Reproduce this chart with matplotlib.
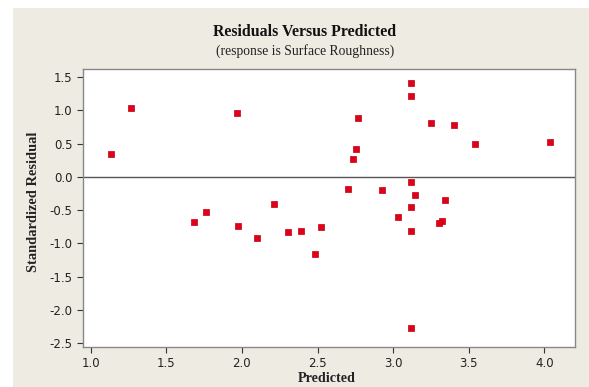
import matplotlib
matplotlib.use("Agg")
import matplotlib.pyplot as plt
from matplotlib.patches import Rectangle

predicted = [1.135, 1.27, 1.968, 2.213, 1.761, 1.686, 1.977, 2.103, 2.303, 2.393,
             2.484, 3.12, 3.12, 2.766, 3.25, 3.405, 3.541, 4.035, 2.757, 2.733,
             3.12, 2.70, 2.929, 3.145, 3.343, 3.12, 3.032, 3.321, 3.303, 3.12,
             2.526, 3.12]
std_resid = [0.346, 1.04, 0.962, -0.406, -0.526, -0.672, -0.732, -0.912, -0.832, -0.812,
             -1.163, 1.409, 1.223, 0.882, 0.812, 0.787, 0.501, 0.526, 0.426, 0.271,
             -0.08, -0.175, -0.2, -0.276, -0.341, -0.446, -0.602, -0.667, -0.697, -0.812,
             -0.757, -2.266]
xticks = [1.0, 1.5, 2.0, 2.5, 3.0, 3.5, 4.0]
yticks = [1.5, 1.0, 0.5, 0.0, -0.5, -1.0, -1.5, -2.0, -2.5]

W, H = 589, 387
fig = plt.figure(figsize=(W/100, H/100), dpi=100)
fig.patch.set_facecolor("white")
fig.patches.append(Rectangle((13/W, 0), 1 - 13/W, 1 - 8/H, transform=fig.transFigure,
                             facecolor="#eeebe3", edgecolor="none", zorder=-10))

ax = fig.add_axes([82.7/W, 1 - 346.7/H, (575.3-82.7)/W, (346.7-69)/H])
ax.set_facecolor("white")
ax.scatter(predicted, std_resid, marker="s", s=20, color="#e0001a", edgecolors="#c00010",
           linewidths=0.5, zorder=3)
ax.axhline(0, color="#555555", lw=1.0, zorder=2)
ax.set_xlim(0.948, 4.204)
ax.set_ylim(-2.552, 1.624)
ax.set_xticks(xticks)
ax.set_yticks(yticks)
ax.set_xticklabels([f"{t:.1f}" for t in xticks])
ax.set_yticklabels([f"{t:.1f}" for t in yticks])
ax.tick_params(labelsize=8.5, colors="#333333", length=4, width=0.8, labelcolor="#222222")
for s in ax.spines.values():
    s.set_color("#888888")
    s.set_linewidth(1.0)

fig.text(305/W, 1 - 32/H, "Residuals Versus Predicted", ha="center", va="center",
         family="Liberation Serif", fontweight="bold", fontsize=11.4, color="#111111")
fig.text(305/W, 1 - 51/H, "(response is Surface Roughness)", ha="center", va="center",
         family="Liberation Serif", fontsize=9.8, color="#222222")
fig.text(327/W, 1 - 378/H, "Predicted", ha="center", va="center",
         family="Liberation Serif", fontweight="bold", fontsize=10.2, color="#222222")
fig.text(34/W, 1 - 201.5/H, "Standardized Residual", ha="center", va="center", rotation=90,
         family="Liberation Serif", fontweight="bold", fontsize=10.4, color="#222222")

fig.savefig("out.png", dpi=100, facecolor=fig.get_facecolor())
